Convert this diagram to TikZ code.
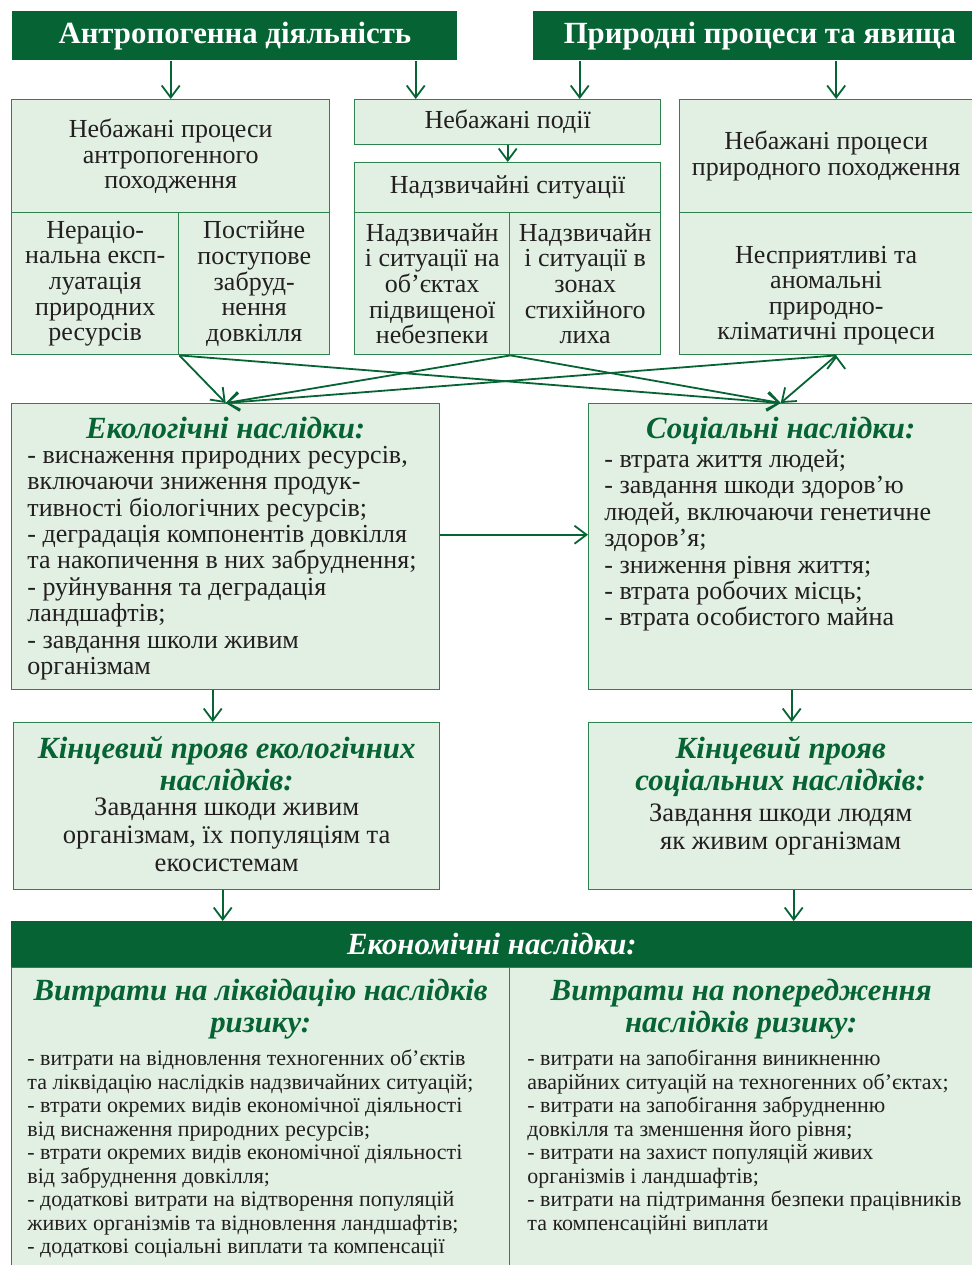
\documentclass[tikz,border=0pt]{standalone}
\usepackage{fontspec}
\setmainfont{Liberation Serif}
\usetikzlibrary{arrows.meta,positioning}
\definecolor{darkGreen}{RGB}{6,99,51}
\definecolor{paleGreen}{RGB}{226,240,227}
\definecolor{lineGreen}{RGB}{45,130,78}
\definecolor{inkGray}{RGB}{35,31,32}
\begin{document}
\begin{tikzpicture}[x=0.5pt,y=-0.5pt,>={Straight Barb[length=6pt,width=9pt]},
    arr/.style={->,draw=darkGreen,line width=0.9pt},
    spanbox/.style n args={4}{at={(#1,#2)},minimum width={(#3-#1)*0.5pt},minimum height={(#4-#2)*0.5pt}},
    head node/.style={fill=darkGreen,text=white,inner sep=0pt,anchor=north west,font=\fontsize{15.4}{17}\selectfont\bfseries},
    box node/.style={draw=lineGreen,fill=paleGreen,line width=0.7pt,inner sep=0pt,anchor=north west,align=center,text=inkGray,font=\fontsize{13}{12.8}\selectfont},
    plain node/.style={inner sep=0pt,align=center,text=inkGray,font=\fontsize{13}{12.8}\selectfont},
    title node/.style={align=center,inner sep=0pt,text=darkGreen,font=\fontsize{15.4}{16}\selectfont\bfseries\itshape},
    list node/.style={align=left,inner sep=0pt,anchor=north west,text=inkGray,font=\fontsize{13}{13.2}\selectfont},
    cost node/.style={align=left,inner sep=0pt,anchor=north west,text=inkGray,font=\fontsize{11}{11.75}\selectfont}]
\useasboundingbox (0,0) rectangle (972,1265);

% sources
\node[head node,spanbox={12}{11}{457}{60}] (hdrA) {Антропогенна діяльність};
\node[head node,spanbox={533}{11}{972}{60}] (hdrN) {\hspace{7pt}Природні процеси та явища};

% unwanted processes and events
\node[box node,spanbox={11}{99}{329}{212}] (ap) {Небажані процеси\\антропогенного\\походження};
\node[box node,spanbox={11}{212}{178}{354}] (ap1) {Нераціо-\\нальна експ-\\луатація\\природних\\ресурсів};
\node[box node,spanbox={178}{212}{329}{354}] (ap2) {Постійне\\поступове\\забруд-\\нення\\довкілля};
\node[box node,spanbox={354}{99}{660}{144}] (ev) {Небажані події};
\node[box node,spanbox={354}{162}{660}{212}] (es) {Надзвичайні ситуації};
\node[box node,spanbox={354}{212}{509}{354}] (es1) {Надзвичайн\\і ситуації на\\об’єктах\\підвищеної\\небезпеки};
\node[box node,spanbox={509}{212}{660}{354}] (es2) {Надзвичайн\\і ситуації в\\зонах\\стихійного\\лиха};
\node[box node,spanbox={679}{99}{972}{212}] (np) {Небажані процеси\\природного походження};
\node[box node,spanbox={679}{212}{972}{354}] (np1) {};
\node[plain node,below=6pt of np1.center,anchor=center] (npT) {Несприятливі та\\аномальні\\природно-\\кліматичні процеси};

% consequences
\node[box node,spanbox={11}{403}{439}{689}] (eco) {};
\node[title node,below=7pt of eco.north] (ecoH) {Екологічні наслідки:};
\node[list node,at={([xshift=8pt,yshift=-3pt]eco.west |- ecoH.south)}] (ecoL) {- виснаження природних ресурсів,\\включаючи зниження продук-\\тивності біологічних ресурсів;\\- деградація компонентів довкілля\\та накопичення в них забруднення;\\- руйнування та деградація\\ландшафтів;\\- завдання школи живим\\організмам};

\node[box node,spanbox={588}{403}{972}{689}] (soc) {};
\node[title node,below=7pt of soc.north] (socH) {Соціальні наслідки:};
\node[list node,at={([xshift=8pt,yshift=-2pt]soc.west |- socH.south)}] (socL) {- втрата життя людей;\\- завдання шкоди здоров’ю\\людей, включаючи генетичне\\здоров’я;\\- зниження рівня життя;\\- втрата робочих місць;\\- втрата особистого майна};

% final manifestation
\node[box node,spanbox={13}{722}{439}{889}] (fe) {};
\node[title node,below=7pt of fe.north] (feH) {Кінцевий прояв екологічних\\наслідків:};
\node[plain node,below=3pt of feH,font=\fontsize{13.3}{14}\selectfont] (feT) {Завдання шкоди живим\\організмам, їх популяціям та\\екосистемам};

\node[box node,spanbox={588}{722}{972}{889}] (fs) {};
\node[title node,below=7pt of fs.north] (fsH) {Кінцевий прояв\\соціальних наслідків:};
\node[plain node,below=3pt of fsH,font=\fontsize{13.3}{14}\selectfont] (fsT) {Завдання шкоди людям\\як живим організмам};

% economic
\node[head node,spanbox={11}{921}{972}{967},font=\fontsize{15.4}{17}\selectfont\bfseries\itshape] (econ) {Економічні наслідки:};
\node[box node,spanbox={11}{967}{509}{1270}] (liq) {};
\node[title node,below=6pt of liq.north] (liqH) {Витрати на ліквідацію наслідків\\ризику:};
\node[cost node,at={([xshift=8pt,yshift=-5pt]liq.west |- liqH.south)}] (liqL) {- витрати на відновлення техногенних об’єктів\\та ліквідацію наслідків надзвичайних ситуацій;\\- втрати окремих видів економічної діяльності\\від виснаження природних ресурсів;\\- втрати окремих видів економічної діяльності\\від забруднення довкілля;\\- додаткові витрати на відтворення популяцій\\живих організмів та відновлення ландшафтів;\\- додаткові соціальні виплати та компенсації};

\node[box node,spanbox={509}{967}{972}{1270}] (pre) {};
\node[title node,below=6pt of pre.north] (preH) {Витрати на попередження\\наслідків ризику:};
\node[cost node,at={([xshift=9pt,yshift=-5pt]pre.west |- preH.south)}] (preL) {- витрати на запобігання виникненню\\аварійних ситуацій на техногенних об’єктах;\\- витрати на запобігання забрудненню\\довкілля та зменшення його рівня;\\- витрати на захист популяцій живих\\організмів і ландшафтів;\\- витрати на підтримання безпеки працівників\\та компенсаційні виплати};

% connectors
\coordinate (evL) at ([xshift=-46pt]ev.north);
\coordinate (evR) at ([xshift=36pt]ev.north);
\coordinate (npS) at ([xshift=5pt]np1.south);
\coordinate (ecoS) at ([xshift=-6.5pt]eco.south);
\coordinate (socS) at ([xshift=5.5pt]soc.south);
\coordinate (feS) at ([xshift=-2pt]fe.south);
\coordinate (fsS) at ([xshift=6.5pt]fs.south);
\draw[arr] (hdrA.south -| ap.north) -- (ap.north);
\draw[arr] (evL |- hdrA.south) -- (evL);
\draw[arr] (evR |- hdrN.south) -- (evR);
\draw[arr] (hdrN.south -| npS) -- (npS |- np.north);
\draw[arr] (ev.south) -- (es.north);
\path[arr]
    (ap1.south east) edge (eco.north)
    (ap1.south east) edge (soc.north)
    (es1.south east) edge (eco.north)
    (es1.south east) edge (soc.north)
    (npS) edge (eco.north)
    (npS) edge (soc.north);
\draw[arr] ([yshift=6pt]eco.east) -- ([yshift=6pt]soc.west);
\draw[arr] (ecoS) -- (ecoS |- fe.north);
\draw[arr] (socS) -- (socS |- fs.north);
\draw[arr] (feS) -- (feS |- econ.north);
\draw[arr] (fsS) -- (fsS |- econ.north);
\end{tikzpicture}
\end{document}
